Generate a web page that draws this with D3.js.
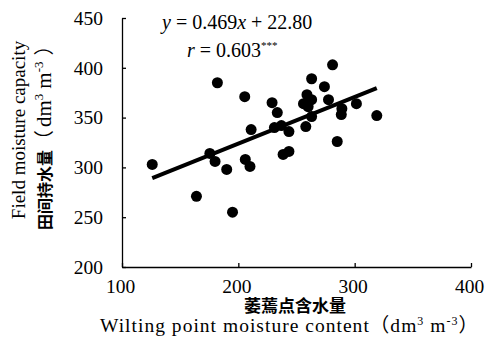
<!DOCTYPE html>
<html>
<head>
<meta charset="utf-8">
<script src="https://cdn.jsdelivr.net/npm/d3@7"></script>
<style>
  html, body { margin: 0; padding: 0; background: #fff; }
  svg { display: block; }
  .serif { font-family: "Liberation Serif", "DejaVu Serif", serif; }
  .cjk { font-family: "Noto Sans CJK SC", sans-serif; font-weight: 700; }
</style>
</head>
<body>
<script>
// wilting point moisture (x) vs field moisture capacity (y), dm3 m-3
const wiltingPoint = [126, 164, 182, 175.5, 180, 190, 195, 205.5, 211, 206, 210,
  229, 233.5, 231, 237, 238.5, 243.5, 243.5, 258, 259, 263, 256, 260, 263,
  263, 274, 281, 277.5, 285, 288.5, 289, 301.5, 319];
const fieldCapacity = [303, 271, 385, 314, 306, 298, 255, 371, 338, 308, 301,
  365, 355, 340, 342, 313, 316, 336, 341, 373, 368, 364, 361, 351,
  389, 381, 403, 368, 326, 353, 359, 364, 352];
const xTicks = [100, 200, 300, 400];
const yTicks = [200, 250, 300, 350, 400, 450];

const width = 489, height = 353;

const svg = d3.select("body").append("svg")
  .attr("width", width)
  .attr("height", height);

let x = d3.scaleLinear().domain([100, 400]).range([122, 471]);
let y = d3.scaleLinear().domain([200, 450]).range([267, 18]);

// axes - ticks point inward
let xAxis = svg.append("g")
  .attr("transform", `translate(0,${y(200)})`)
  .call(d3.axisBottom(x).tickValues(xTicks).tickSizeInner(-4).tickSizeOuter(0).tickPadding(12.5));
let yAxis = svg.append("g")
  .attr("transform", `translate(${x(100)},0)`)
  .call(d3.axisLeft(y).tickValues(yTicks).tickSizeInner(-4).tickSizeOuter(0).tickPadding(19));

[xAxis, yAxis].forEach(g => {
  g.selectAll("path, line").attr("stroke", "#000").attr("stroke-width", 1.3);
  g.selectAll("text")
    .attr("class", "serif")
    .attr("fill", "#000")
    .style("font-size", "19.5px");
});
xAxis.selectAll(".tick text").attr("dx", -2);

// regression line, least squares from the points
let mx = d3.mean(wiltingPoint), my = d3.mean(fieldCapacity);
let sxy = d3.sum(wiltingPoint, (v, i) => (v - mx) * (fieldCapacity[i] - my));
let sxx = d3.sum(wiltingPoint, v => (v - mx) * (v - mx));
let slope = sxy / sxx, intercept = my - slope * mx;
let ext = d3.extent(wiltingPoint);

svg.append("line")
  .attr("x1", x(ext[0])).attr("y1", y(intercept + slope * ext[0]))
  .attr("x2", x(ext[1])).attr("y2", y(intercept + slope * ext[1]))
  .attr("stroke", "#000")
  .attr("stroke-width", 4);

svg.selectAll(".pt")
  .data(wiltingPoint)
  .join("circle")
  .attr("class", "pt")
  .attr("cx", d => x(d))
  .attr("cy", (d, i) => y(fieldCapacity[i]))
  .attr("r", 5.5)
  .attr("fill", "#000");

// equation text
let eq = svg.append("text").attr("class", "serif")
  .attr("x", 162).attr("y", 29).style("font-size", "20px");
eq.append("tspan").style("font-style", "italic").text("y");
eq.append("tspan").text(" = 0.469");
eq.append("tspan").style("font-style", "italic").text("x");
eq.append("tspan").text("  + 22.80");

let rt = svg.append("text").attr("class", "serif")
  .attr("x", 187).attr("y", 57).style("font-size", "20px");
rt.append("tspan").style("font-style", "italic").text("r");
rt.append("tspan").text(" = 0.603");
rt.append("tspan").attr("dy", -8).style("font-size", "11px").text("***");

// x axis titles
svg.append("text").attr("class", "cjk")
  .attr("x", 295).attr("y", 311.5)
  .attr("text-anchor", "middle")
  .style("font-size", "17px")
  .text("萎蔫点含水量");

let xt = svg.append("text").attr("class", "serif")
  .attr("x", 100).attr("y", 332)
  .attr("textLength", 378)
  .attr("lengthAdjust", "spacing")
  .style("font-size", "19.5px");
xt.append("tspan").text("Wilting point moisture content");
xt.append("tspan").attr("class", "cjk").style("font-weight", 400).text("（");
xt.append("tspan").text("dm");
xt.append("tspan").attr("dy", -7).style("font-size", "12px").text("3");
xt.append("tspan").attr("dy", 7).text(" m");
xt.append("tspan").attr("dy", -7).style("font-size", "12px").text("-3");
xt.append("tspan").attr("dy", 7).attr("class", "cjk").style("font-weight", 400).text("）");

// y axis titles
svg.append("text").attr("class", "serif")
  .attr("transform", "translate(25,130) rotate(-90)")
  .attr("text-anchor", "middle")
  .style("font-size", "19px")
  .text("Field moisture capacity");

let yt = svg.append("text")
  .attr("transform", "translate(51,230) rotate(-90)")
  .attr("class", "serif")
  .style("font-size", "21px");
yt.append("tspan").attr("class", "cjk").style("font-size", "16px").text("田间持水量");
yt.append("tspan").attr("class", "cjk").style("font-weight", 400).style("font-size", "20px").text("（");
yt.append("tspan").attr("dx", 3).text("dm");
yt.append("tspan").attr("dy", -8).style("font-size", "13px").text("3");
yt.append("tspan").attr("dy", 8).attr("dx", 5).text("m");
yt.append("tspan").attr("dy", -8).style("font-size", "13px").text("-3");
yt.append("tspan").attr("dy", 8).attr("dx", 6).attr("class", "cjk").style("font-weight", 400).style("font-size", "20px").text("）");
</script>
</body>
</html>
